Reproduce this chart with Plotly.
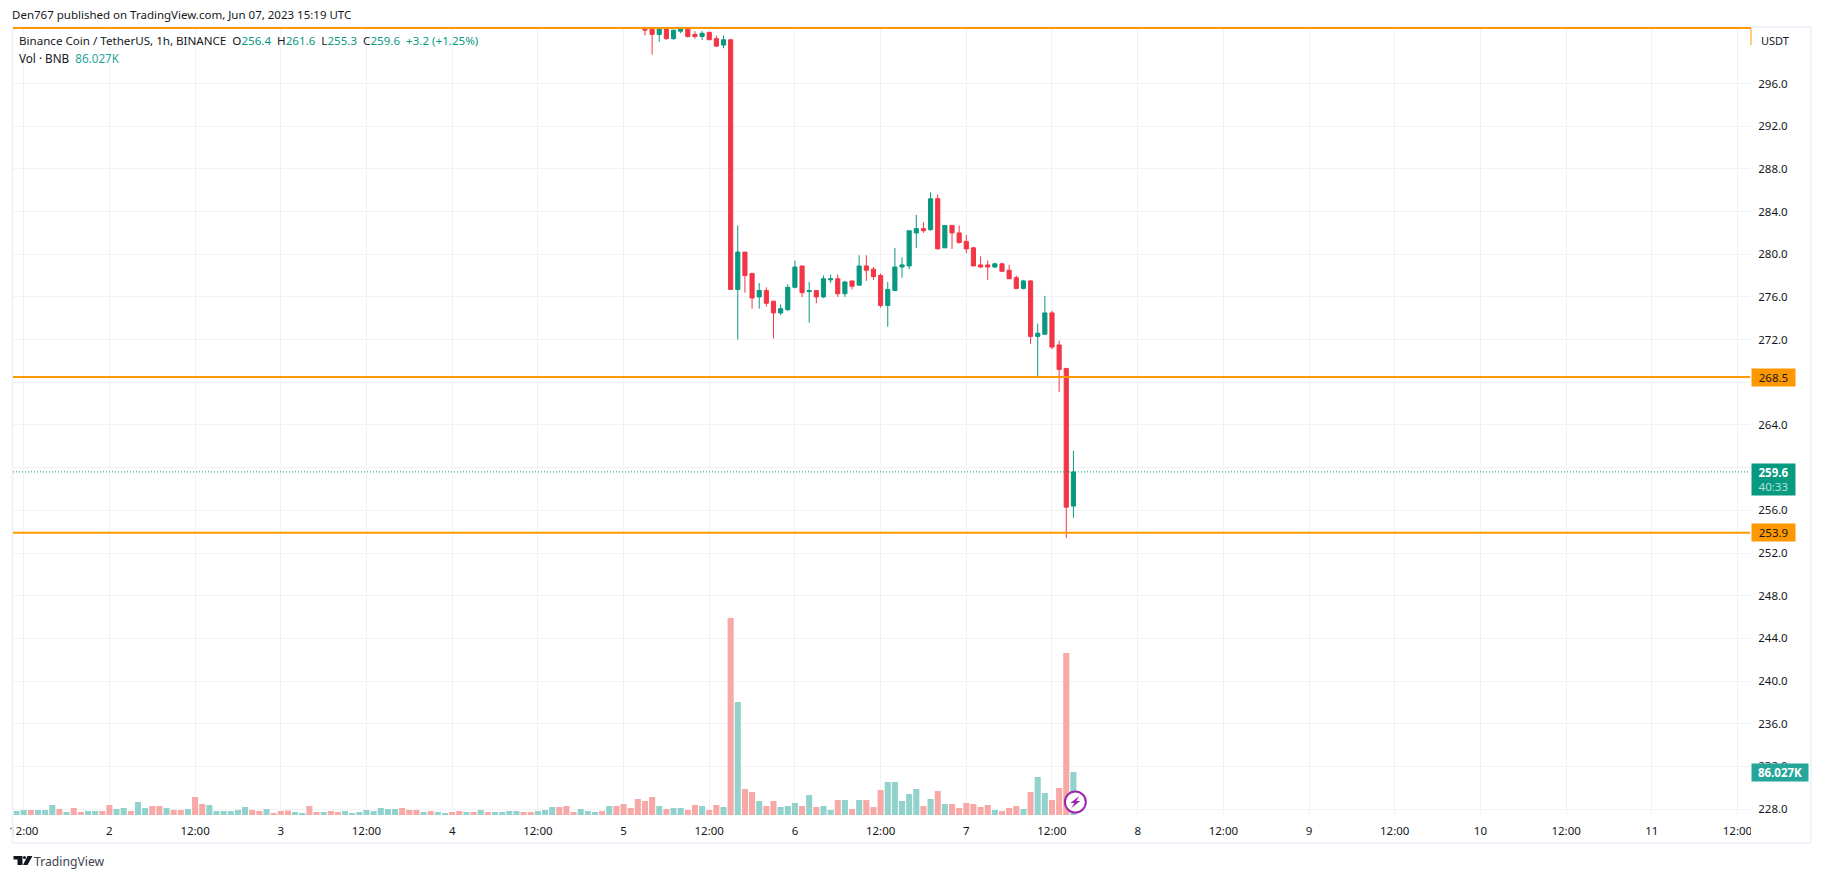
import pandas as pd
import plotly.graph_objects as go

WIDTH, HEIGHT = 1821, 878
PLOT_L, PLOT_R, PLOT_T, PLOT_B = 9.5, 1750, 28, 815

UP = '#089981'
DOWN = '#F23645'
VOL_UP = '#92D2CC'
VOL_DOWN = '#F7A9A7'
ORANGE = '#FF9800'
GRID = '#F1F2F5'
FRAME = '#F0F3FA'
TEXT = '#131722'

# hourly candles, 2023-06-05 02:00 onwards
candle_start = '2023-06-05 02:00'
opens = [301.6, 301.2, 301.2, 300.6, 301.2, 300.2, 300.9, 301.2, 300.6, 300.4, 300.8, 300.2, 299.6, 300.1,
         276.7, 280.2, 278.2, 276.0, 276.6, 275.6, 274.5, 274.8, 276.9, 278.9, 276.5, 276.6, 276.0, 277.6,
         277.7, 276.3, 277.5, 277.1, 278.9, 278.6, 278.0, 275.2, 276.6, 278.8, 278.9, 282.0, 282.4, 282.3,
         285.2, 280.6, 282.7, 282.0, 281.2, 280.6, 279.0, 279.0, 278.8, 279.1, 278.5, 277.8, 276.8, 277.5,
         272.3, 272.5, 274.5, 271.5, 269.3, 256.4]
highs = [301.7, 301.3, 301.3, 301.3, 301.3, 301.0, 301.2, 301.2, 300.9, 300.9, 300.8, 300.5, 300.5, 300.1,
         282.7, 280.2, 278.2, 277.3, 276.9, 275.6, 275.3, 277.2, 279.4, 278.9, 277.4, 276.6, 278.0, 278.1,
         278.1, 277.5, 277.5, 279.9, 279.9, 278.8, 278.2, 277.4, 280.6, 279.7, 282.2, 283.7, 283.0, 285.8,
         285.6, 282.7, 282.7, 282.7, 281.8, 280.7, 279.8, 279.4, 279.2, 279.2, 279.0, 278.0, 277.6, 277.6,
         273.5, 276.1, 274.7, 271.9, 269.3, 261.6]
lows = [301.1, 300.5, 298.7, 299.9, 300.1, 300.1, 300.7, 300.3, 300.2, 300.1, 300.1, 299.5, 299.3, 276.7,
        272.0, 276.4, 274.9, 274.9, 275.1, 272.1, 274.3, 274.7, 276.8, 276.0, 273.6, 275.4, 275.9, 277.3,
        276.0, 276.0, 276.7, 277.1, 277.5, 277.6, 275.0, 273.2, 276.6, 277.8, 278.6, 280.6, 282.0, 282.2,
        280.5, 280.6, 280.5, 281.0, 280.1, 278.9, 278.7, 277.6, 278.7, 278.4, 277.7, 276.7, 276.7, 271.6,
        268.4, 272.5, 271.1, 267.1, 253.4, 255.3]
closes = [301.25, 301.0, 300.6, 301.1, 300.2, 301.0, 301.2, 300.4, 300.4, 300.7, 300.1, 299.5, 300.1, 276.7,
          280.2, 278.0, 275.9, 276.6, 275.4, 274.5, 274.9, 276.9, 278.8, 276.4, 276.6, 276.0, 277.7, 277.7,
          276.3, 277.4, 277.0, 278.9, 278.5, 277.9, 275.2, 276.7, 278.8, 279.0, 282.2, 282.4, 282.2, 285.2,
          280.5, 282.7, 282.0, 281.1, 280.5, 278.9, 278.8, 278.8, 279.1, 278.4, 277.7, 276.8, 277.5, 272.3,
          272.6, 274.5, 271.3, 269.2, 256.3, 259.6]

# hourly volume in thousands, 2023-06-01 10:00 onwards
volume_start = '2023-06-01 10:00'
volume = [12, 8, 10, 10, 10, 10, 20, 12, 6, 14, 6, 8, 8, 8,
          20, 12, 14, 8, 26, 14, 18, 18, 14, 10, 10, 12,
          36, 22, 20, 8, 8, 8, 10, 16, 10, 8, 12, 4,
          8, 9, 6, 4, 18, 6, 6, 8, 6, 8, 4, 6,
          10, 8, 14, 12, 12, 14, 10, 10, 6, 8, 6, 4,
          6, 8, 6, 6, 10, 6, 6, 6, 8, 8, 6, 6,
          8, 10, 16, 16, 18, 6, 12, 8, 6, 8, 18, 18, 22, 14,
          32, 28, 36, 18, 12, 14, 14, 10, 20, 18, 10, 20, 16,
          394, 226, 52, 46, 28, 18, 28, 16, 18, 24, 18, 40, 16, 18, 10, 30, 30, 12,
          30, 30, 16, 50, 66, 66, 28, 42, 52, 18, 32, 48, 22, 22, 14, 24, 22, 16, 20,
          10, 8, 14, 18, 12, 46, 76, 44, 30, 54, 324, 86.027]
# direction of the volume bars that come before the first visible candle, u = up, d = down
early_volume_dir = list('duuduuududduud'
                        'duuduudduddu'
                        'dduuuuuuddud'
                        'dduuddudduuu'
                        'uuuuuddduduu'
                        'ddududuuuudd'
                        'uuuddduuududdd')

tick_vals = ['2023-06-01 12:00', '2023-06-02 00:00', '2023-06-02 12:00', '2023-06-03 00:00', '2023-06-03 12:00',
             '2023-06-04 00:00', '2023-06-04 12:00', '2023-06-05 00:00', '2023-06-05 12:00', '2023-06-06 00:00',
             '2023-06-06 12:00', '2023-06-07 00:00', '2023-06-07 12:00', '2023-06-08 00:00', '2023-06-08 12:00',
             '2023-06-09 00:00', '2023-06-09 12:00', '2023-06-10 00:00', '2023-06-10 12:00', '2023-06-11 00:00',
             '2023-06-11 12:00']
tick_text = ['12:00', '2', '12:00', '3', '12:00', '4', '12:00', '5', '12:00', '6', '12:00', '7', '12:00', '8',
             '12:00', '9', '12:00', '10', '12:00', '11', '12:00']
price_ticks = [228, 232, 236, 240, 244, 248, 252, 256, 260, 264, 268, 272, 276, 280, 284, 288, 292, 296]
levels = [268.5, 253.9]
last_price = 259.6


def px_x(x):
    return (x - PLOT_L) / (PLOT_R - PLOT_L)


def px_y(y):
    return (PLOT_B - y) / (PLOT_B - PLOT_T)


def px_path(points):
    # closed svg path from screen pixels
    parts = [f'{px_x(x):.5f},{px_y(y):.5f}' for x, y in points]
    return 'M' + 'L'.join(parts) + 'Z'


def label(text, x, y, size=12, color=TEXT, **kw):
    return dict(text=text, xref='paper', yref='paper', x=px_x(x), y=px_y(y), xanchor='left', yanchor='middle',
                showarrow=False, font=dict(size=size, color=color), align='left', **kw)


def tag(text, y, width, box_height, bgcolor, color='#FFFFFF'):
    return dict(text=text, xref='paper', yref='paper', x=px_x(1751), y=px_y(y), xanchor='left', yanchor='middle',
                showarrow=False, font=dict(size=11.5, color=color), align='center', bgcolor=bgcolor,
                width=width, height=box_height, borderpad=0)


candle_x = pd.date_range(candle_start, periods=len(opens), freq='h')
volume_x = pd.date_range(volume_start, periods=len(volume), freq='h')
late_volume_dir = ['u' if c >= o else 'd' for o, c in zip(opens, closes)]
volume_dir = early_volume_dir + late_volume_dir
volume_colors = [VOL_UP if d == 'u' else VOL_DOWN for d in volume_dir]

fig = go.Figure()

fig.add_trace(go.Bar(x=volume_x, y=volume, yaxis='y2', marker=dict(color=volume_colors, line=dict(width=0)),
                     showlegend=False, hoverinfo='skip'))
fig.add_trace(go.Candlestick(x=candle_x, open=opens, high=highs, low=lows, close=closes,
                             increasing=dict(line=dict(color=UP, width=1), fillcolor=UP),
                             decreasing=dict(line=dict(color=DOWN, width=1), fillcolor=DOWN),
                             whiskerwidth=0, showlegend=False))

shapes = []
# chart frame
for x0, y0, x1, y1 in [(9, 27, 1811, 27), (9, 27, 9, 843), (1811, 27, 1811, 843), (9, 843, 1811, 843)]:
    shapes.append(dict(type='line', xref='paper', yref='paper', x0=px_x(x0), y0=px_y(y0), x1=px_x(x1), y1=px_y(y1),
                       line=dict(color=FRAME, width=2)))
# clip the last time label at the price scale
shapes.append(dict(type='rect', xref='paper', yref='paper', x0=px_x(1751), x1=px_x(1765), y0=px_y(819), y1=px_y(840),
                   fillcolor='white', line=dict(width=0)))
# drawn box running off the top of the chart
shapes.append(dict(type='line', xref='paper', yref='paper', x0=px_x(PLOT_L), x1=px_x(1751), y0=px_y(28), y1=px_y(28),
                   line=dict(color=ORANGE, width=2)))
shapes.append(dict(type='line', xref='paper', yref='paper', x0=px_x(1751), x1=px_x(1751), y0=px_y(28), y1=px_y(45),
                   line=dict(color=ORANGE, width=1)))
for level in levels:
    shapes.append(dict(type='line', xref='paper', yref='y', x0=0, x1=1, y0=level, y1=level,
                       line=dict(color=ORANGE, width=2)))
shapes.append(dict(type='line', xref='paper', yref='y', x0=0, x1=1, y0=last_price, y1=last_price,
                   line=dict(color=UP, width=1, dash='1px,2px')))
# flash icon on the last bar
shapes.append(dict(type='circle', xref='paper', yref='paper', x0=px_x(1063.5), x1=px_x(1084.5), y0=px_y(791.5),
                   y1=px_y(812.5), fillcolor='white', line=dict(color='#9C27B0', width=2)))
shapes.append(dict(type='path', xref='paper', yref='paper', line=dict(width=0), fillcolor='#9C27B0',
                   path=px_path([(1078, 796), (1069, 803), (1073, 803), (1070, 808), (1079, 801), (1075, 801)])))
# TradingView logo
shapes.append(dict(type='path', xref='paper', yref='paper', line=dict(width=0), fillcolor=TEXT,
                   path=px_path([(10, 856), (19, 856), (19, 865), (14, 865), (14, 859.5), (10, 859.5)])))
shapes.append(dict(type='circle', xref='paper', yref='paper', line=dict(width=0), fillcolor=TEXT,
                   x0=px_x(19.5), x1=px_x(22.5), y0=px_y(856), y1=px_y(859)))
shapes.append(dict(type='path', xref='paper', yref='paper', line=dict(width=0), fillcolor=TEXT,
                   path=px_path([(24, 856), (29, 856), (24, 865), (19.5, 865)])))

annotations = [
    label('Den767 published on TradingView.com, Jun 07, 2023 15:19 UTC', 6, 15, size=11.5),
    label('Binance Coin / TetherUS, 1h, BINANCE\u00a0\u00a0'
          f'O<span style="color:{UP}">256.4</span>\u00a0\u00a0'
          f'H<span style="color:{UP}">261.6</span>\u00a0\u00a0'
          f'L<span style="color:{UP}">255.3</span>\u00a0\u00a0'
          f'C<span style="color:{UP}">259.6</span>\u00a0\u00a0'
          f'<span style="color:{UP}">+3.2 (+1.25%)</span>', 14, 41, size=11.6),
    label('Vol · BNB\u00a0\u00a0<span style="color:#26A69A">86.027K</span>', 14, 58, size=11.7),
    label('TradingView', 29, 861, size=12.2, color='#3E4350'),
    tag('268.5', 377.3, 43, 17, ORANGE, TEXT),
    tag('253.9', 532.3, 43, 17, ORANGE, TEXT),
    tag('<b>259.6</b><br><span style="color:#B5E0D8">40:33</span>', 479.5, 43, 31, UP),
    tag('<b>86.027K</b>', 772.5, 56, 17, '#26A69A'),
]

fig.update_layout(
    width=WIDTH, height=HEIGHT, autosize=False,
    margin=dict(l=PLOT_L, r=WIDTH - PLOT_R, t=PLOT_T, b=HEIGHT - PLOT_B, pad=0),
    paper_bgcolor='white', plot_bgcolor='white',
    font=dict(family='Noto Sans, sans-serif', size=12, color=TEXT),
    showlegend=False, hovermode=False,
    bargap=0.15, boxgap=0.42, boxgroupgap=0,
    xaxis=dict(type='date', range=['2023-06-01 10:30', '2023-06-11 13:45'], rangeslider=dict(visible=False),
               tickmode='array', tickvals=tick_vals, ticktext=tick_text, ticks='outside', ticklen=5,
               tickcolor='white', tickfont=dict(size=11.5), showgrid=True, gridcolor=GRID, gridwidth=1,
               zeroline=False, showline=False),
    yaxis=dict(side='right', range=[227.45, 301.2], tickmode='array', tickvals=price_ticks,
               ticktext=[f'{p:.1f}' for p in price_ticks], ticks='outside', ticklen=5, tickcolor='white',
               tickfont=dict(size=11.5), showgrid=True, gridcolor=GRID, gridwidth=1, zeroline=False, showline=False),
    yaxis2=dict(overlaying='y', side='right', range=[0, 1574], visible=False),
    shapes=shapes,
    annotations=annotations + [label('USDT', 1759, 40, size=11)],
)

fig.write_html('out.html', config=dict(displayModeBar=False),
               post_script="document.body.style.margin='0';document.documentElement.style.overflow='hidden';")
